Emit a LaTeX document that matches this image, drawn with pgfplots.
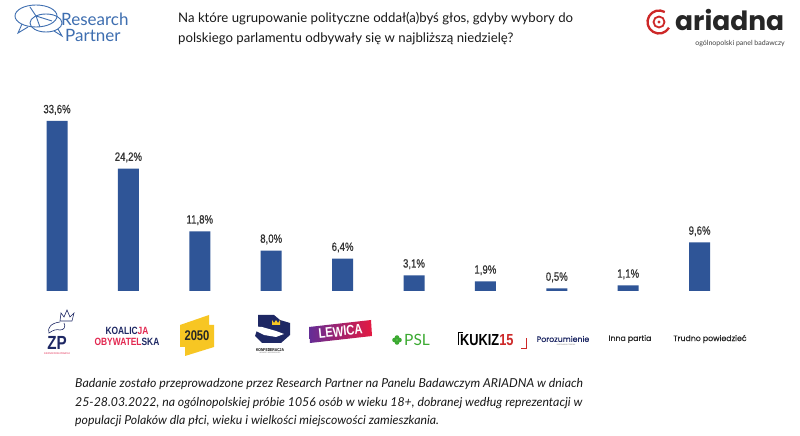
\documentclass[border=0pt]{standalone}
\usepackage{pgfplots}
\pgfplotsset{compat=1.18}
\usepackage{fontspec}
\setmainfont{Lato}
\newfontfamily\lab[FakeStretch=0.8,FakeBold=0.6]{Liberation Sans}
\newfontfamily\cond[FakeStretch=0.8]{Liberation Sans}
\newfontfamily\pop{Poppins}
\newfontfamily\popm[FakeBold=0.4]{Poppins}
\definecolor{barblue}{RGB}{47,85,151}
\definecolor{rpblue}{RGB}{62,110,176}
\definecolor{navy}{RGB}{30,40,100}
\definecolor{kored}{RGB}{226,40,80}
\definecolor{yel}{RGB}{247,198,35}
\definecolor{psl}{RGB}{60,170,50}
\definecolor{ared}{RGB}{205,40,40}
\definecolor{lpurple}{RGB}{100,45,150}
\definecolor{lred}{RGB}{228,25,65}
\begin{document}
\begin{tikzpicture}[x=1pt,y=1pt]
\path[use as bounding box, fill=white] (0,0) rectangle (800,436);
\begin{axis}[
  at={(21.3pt,145pt)}, anchor=south west,
  scale only axis, width=714pt, height=202.4pt,
  xmin=-0.5, xmax=9.5, ymin=0, ymax=40,
  hide axis, ybar, bar width=21pt,
  nodes near coords={\pgfmathprintnumber[fixed,fixed zerofill,precision=1,use comma,assume math mode=true]{\pgfplotspointmeta}\%},
  every node near coord/.append style={font=\lab\fontsize{12}{12}\selectfont, text=black!80, inner sep=0pt, yshift=6pt},
  clip=false]
\addplot[fill=barblue, draw=none] coordinates {
 (0,33.6) (1,24.2) (2,11.8) (3,8.0) (4,6.4) (5,3.1) (6,1.9) (7,0.5) (8,1.1) (9,9.6)};
\end{axis}
% ---------- header ----------
\begin{scope}[rpblue, line width=0.9pt]
\draw (36,420) ellipse (21 and 11);
\draw (36,420) -- (30,429) (36,420) -- (52,415) (36,420) -- (40,409);
\draw (22,412) -- (18,403) -- (28,409);
\draw (46,413) ellipse (16 and 9);
\draw (58,407) -- (62,400) -- (54,405);
\end{scope}
\node[anchor=west, text=rpblue, inner sep=0pt, font=\fontsize{17}{17}\selectfont] at (61,417) {Research};
\node[anchor=west, text=rpblue, inner sep=0pt, font=\fontsize{17}{17}\selectfont] at (65,401) {Partner};
\node[anchor=west, inner sep=0pt, text=black!90, font=\fontsize{13.2}{13}\selectfont] at (178,417) {Na które ugrupowanie polityczne oddał(a)byś głos, gdyby wybory do};
\node[anchor=west, inner sep=0pt, text=black!90, font=\fontsize{13.2}{13}\selectfont] at (178,397) {polskiego parlamentu odbywały się w najbliższą niedzielę?};
\begin{scope}[ared]
\draw[line width=2.3pt] (659,414) ++(60:11.5) arc (60:330:11.5);
\draw[line width=1.8pt] (659,414) circle (5.5);
\fill (659,414) circle (1.6);
\end{scope}
\node[anchor=base west, inner sep=0pt, font=\pop\bfseries\fontsize{26.5}{26}\selectfont, text=black!85] at (675,405) {ariadna};
\node[anchor=east, inner sep=0pt, font=\fontsize{7}{7}\selectfont, text=black!75] at (785,392) {ogólnopolski panel badawczy};
% ---------- party logos ----------
% ZP
\begin{scope}[navy, line width=0.6pt]
\draw (60,115) -- (61,123) -- (64,119) -- (67,126) -- (70,119) -- (74,123) -- (72,115) -- cycle;
\draw (60,114) .. controls (51,113) and (47,108) .. (49,103) .. controls (53,106) and (57,107) .. (60,106);
\draw (60,106) .. controls (64,106) and (66,109) .. (64,113);
\end{scope}
\node[inner sep=0pt, font=\cond\bfseries\fontsize{19}{19}\selectfont, text=navy] at (57,93) {ZP};
\node[inner sep=0pt, font=\cond\fontsize{2.6}{3}\selectfont, text=kored] at (57,82) {ZJEDNOCZONA PRAWICA};
% KO
\node[inner sep=0pt, font=\cond\bfseries\fontsize{10.5}{10}\selectfont] at (127,105) {\textcolor{navy}{KOALIC}\textcolor{kored}{JA}};
\node[inner sep=0pt, font=\cond\bfseries\fontsize{10.5}{10}\selectfont] at (127,94) {\textcolor{kored}{OBYWATEL}\textcolor{navy}{SKA}};
% 2050
\fill[yel] (180,111) -- (209,121) -- (209,111) -- (214,111) -- (214,89) -- (185,80) -- (185,89) -- (180,89) -- cycle;
\node[inner sep=0pt, font=\cond\bfseries\fontsize{14}{14}\selectfont, text=black!85] at (197,100) {2050};
% Konfederacja
\fill[navy] (258,121) -- (274,121) -- (280,116) -- (290,113) -- (290,101) -- (281,93) -- (262,93) -- (255,100) -- (258,109) -- cycle;
\fill[white] (250,110) -- (262,109) -- (276,105) -- (284,102) -- (276,99) -- (264,101) -- (256,105) -- cycle;
\fill[yel] (272,111) -- (272,116) -- (274,113) -- (276,116) -- (278,113) -- (280,116) -- (280,111) -- cycle;
\node[inner sep=0pt, font=\cond\bfseries\fontsize{4.2}{4}\selectfont, text=black] at (270,86) {KONFEDERACJA};
\node[inner sep=0pt, font=\cond\fontsize{1.8}{2}\selectfont, text=black!60] at (270,83) {WOLNOŚĆ I NIEPODLEGŁOŚĆ};
% Lewica
\shade[left color=lpurple, right color=lred] (309,109) -- (371,116) -- (372,100) -- (310,93) -- cycle;
\node[inner sep=0pt, rotate=6, font=\cond\bfseries\fontsize{14}{14}\selectfont, text=white] at (340.5,104.5) {LEWICA};
% PSL
\begin{scope}[psl]
\fill (397,98.5) circle (2.3);
\fill (397,93.5) circle (2.3);
\fill (394.5,96) circle (2.3);
\fill (399.5,96) circle (2.3);
\end{scope}
\node[anchor=west, inner sep=0pt, font=\fontsize{15.5}{15}\selectfont, text=psl] at (404,96) {PSL};
% Kukiz
\draw[black, line width=0.8pt] (458,91) -- (458,104) -- (463,104);
\node[anchor=west, inner sep=0pt, font=\cond\bfseries\fontsize{16}{16}\selectfont] at (460,96) {\textcolor{black}{KUKIZ}\textcolor{ared}{15}};
\draw[ared, line width=0.8pt] (521,88) -- (526,88) -- (526,98);
% Porozumienie
\node[inner sep=0pt, font=\popm\fontsize{7.8}{8}\selectfont, text=navy] at (563,97) {Porozumienie};
\node[inner sep=0pt, font=\fontsize{1.8}{2}\selectfont, text=black!50] at (566,91) {JAROSŁAWA GOWINA};
\node[inner sep=0pt, font=\popm\fontsize{7.8}{8}\selectfont, text=black!85] at (630,97) {Inna partia};
\node[inner sep=0pt, font=\popm\fontsize{7.8}{8}\selectfont, text=black!85] at (710,97) {Trudno powiedzieć};
% ---------- footer ----------
\begin{scope}[every node/.style={anchor=west, inner sep=0pt, text=black!90, font=\itshape\fontsize{12.3}{12}\selectfont}]
\node at (75,52) {Badanie zostało przeprowadzone przez Research Partner na Panelu Badawczym ARIADNA w dniach};
\node at (75,33) {25-28.03.2022, na ogólnopolskiej próbie 1056 osób w wieku 18+, dobranej według reprezentacji w};
\node at (75,15) {populacji Polaków dla płci, wieku i wielkości miejscowości zamieszkania.};
\end{scope}
\end{tikzpicture}
\end{document}
